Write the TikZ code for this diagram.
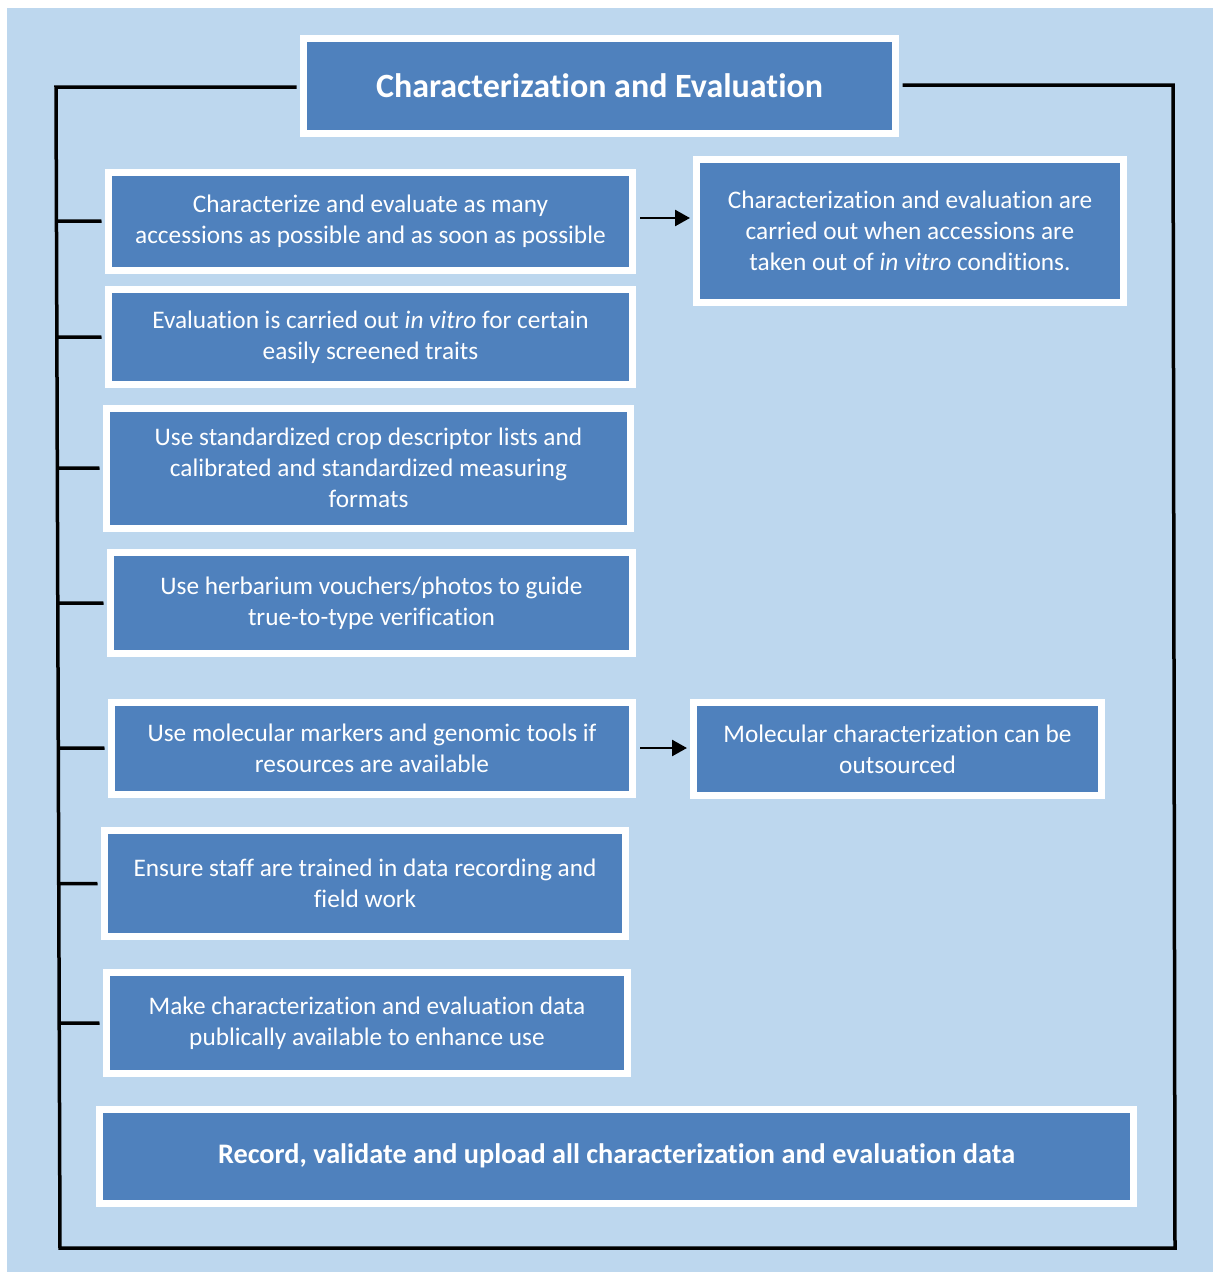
\documentclass[tikz,border=0pt]{standalone}
\usepackage{fontspec}
\setmainfont{Carlito}[Ligatures=NoCommon]
\usetikzlibrary{arrows.meta,shadows,calc}
\definecolor{pagebg}{RGB}{189,215,238}
\definecolor{boxblue}{RGB}{79,129,189}
\tikzset{
  stepbox/.style={draw=white, line width=7pt, fill=boxblue, text=white,
    inner sep=0pt, align=center,
    font=\fontsize{25.3}{31}\selectfont,
    drop shadow={shadow xshift=1.5pt, shadow yshift=-3pt, opacity=0.25, fill=black!70}},
  headbox/.style={stepbox, font=\fontsize{34}{40}\selectfont\bfseries},
  footbox/.style={stepbox, font=\fontsize{28.3}{34}\selectfont\bfseries},
  frameline/.style={line width=3.5pt, black},
  linkarrow/.style={line width=2.5pt, black, -{Triangle[length=15pt,width=16pt]}}
}
\begin{document}
\begin{tikzpicture}[x=1pt,y=-1pt]
  % page and background
  \useasboundingbox (0,0) rectangle (1213,1272);
  \fill[white] (0,0) rectangle (1213,1272);
  \fill[pagebg] (7,8) rectangle (1213,1272);

  % frame corners
  \coordinate (TL) at (56,87);
  \coordinate (BL) at (60,1248);
  \coordinate (BR) at (1175,1248);
  \coordinate (TR) at (1173,85);

  % boxes
  \node[headbox, minimum width=592pt, minimum height=95pt] (title) at (599.5,86)
    {Characterization and Evaluation};
  \node[stepbox, minimum width=524pt, minimum height=98pt] (a) at (370.5,221)
    {Characterize and evaluate as many\\accessions as possible and as soon as possible};
  \node[stepbox, minimum width=427pt, minimum height=143pt] (b) at (910,231)
    {Characterization and evaluation are\\carried out when accessions are\\taken out of \textit{in vitro} conditions.};
  \node[stepbox, minimum width=524pt, minimum height=95pt] (c) at (370.5,337)
    {Evaluation is carried out \textit{in vitro} for certain\\easily screened traits};
  \node[stepbox, minimum width=524pt, minimum height=120pt] (d) at (368.5,468)
    {Use standardized crop descriptor lists and\\calibrated and standardized measuring\\formats};
  \node[stepbox, minimum width=522pt, minimum height=101pt] (e) at (371.5,603)
    {Use herbarium vouchers/photos to guide\\true-to-type verification};
  \node[stepbox, minimum width=521pt, minimum height=92pt] (f) at (372,748)
    {Use molecular markers and genomic tools if\\resources are available};
  \node[stepbox, minimum width=408pt, minimum height=93pt] (g) at (897.5,749)
    {Molecular characterization can be\\outsourced};
  \node[stepbox, minimum width=521pt, minimum height=106pt] (h) at (365,883.5)
    {Ensure staff are trained in data recording and\\field work};
  \node[stepbox, minimum width=521pt, minimum height=101pt] (i) at (367,1023)
    {Make characterization and evaluation data\\publically available to enhance use};
  \node[footbox, minimum width=1034pt, minimum height=94pt] (j) at (616.5,1156)
    {Record, validate and upload all characterization and evaluation data};

  % outer frame joined to the heading
  \draw[frameline] ($(title.west)+(-3.5,1)$) -- (TL) -- (BL) -- (BR) -- (TR) -- ($(title.east)+(3.5,-1)$);

  % branches from the frame to each step
  \foreach \n in {a,c,d,e,f,h,i}
    \draw[frameline, shorten >=3.5pt] ($(TL)!(\n.west)!(BL)$) -- (\n.west);

  % follow-up arrows
  \draw[linkarrow, shorten <=4pt, shorten >=3pt] ($(a.east)+(0,-3)$) -- ($(a.east -| b.west)+(0,-3)$);
  \draw[linkarrow, shorten <=4pt, shorten >=3pt] (f.east) -- (f.east -| g.west);
\end{tikzpicture}
\end{document}
